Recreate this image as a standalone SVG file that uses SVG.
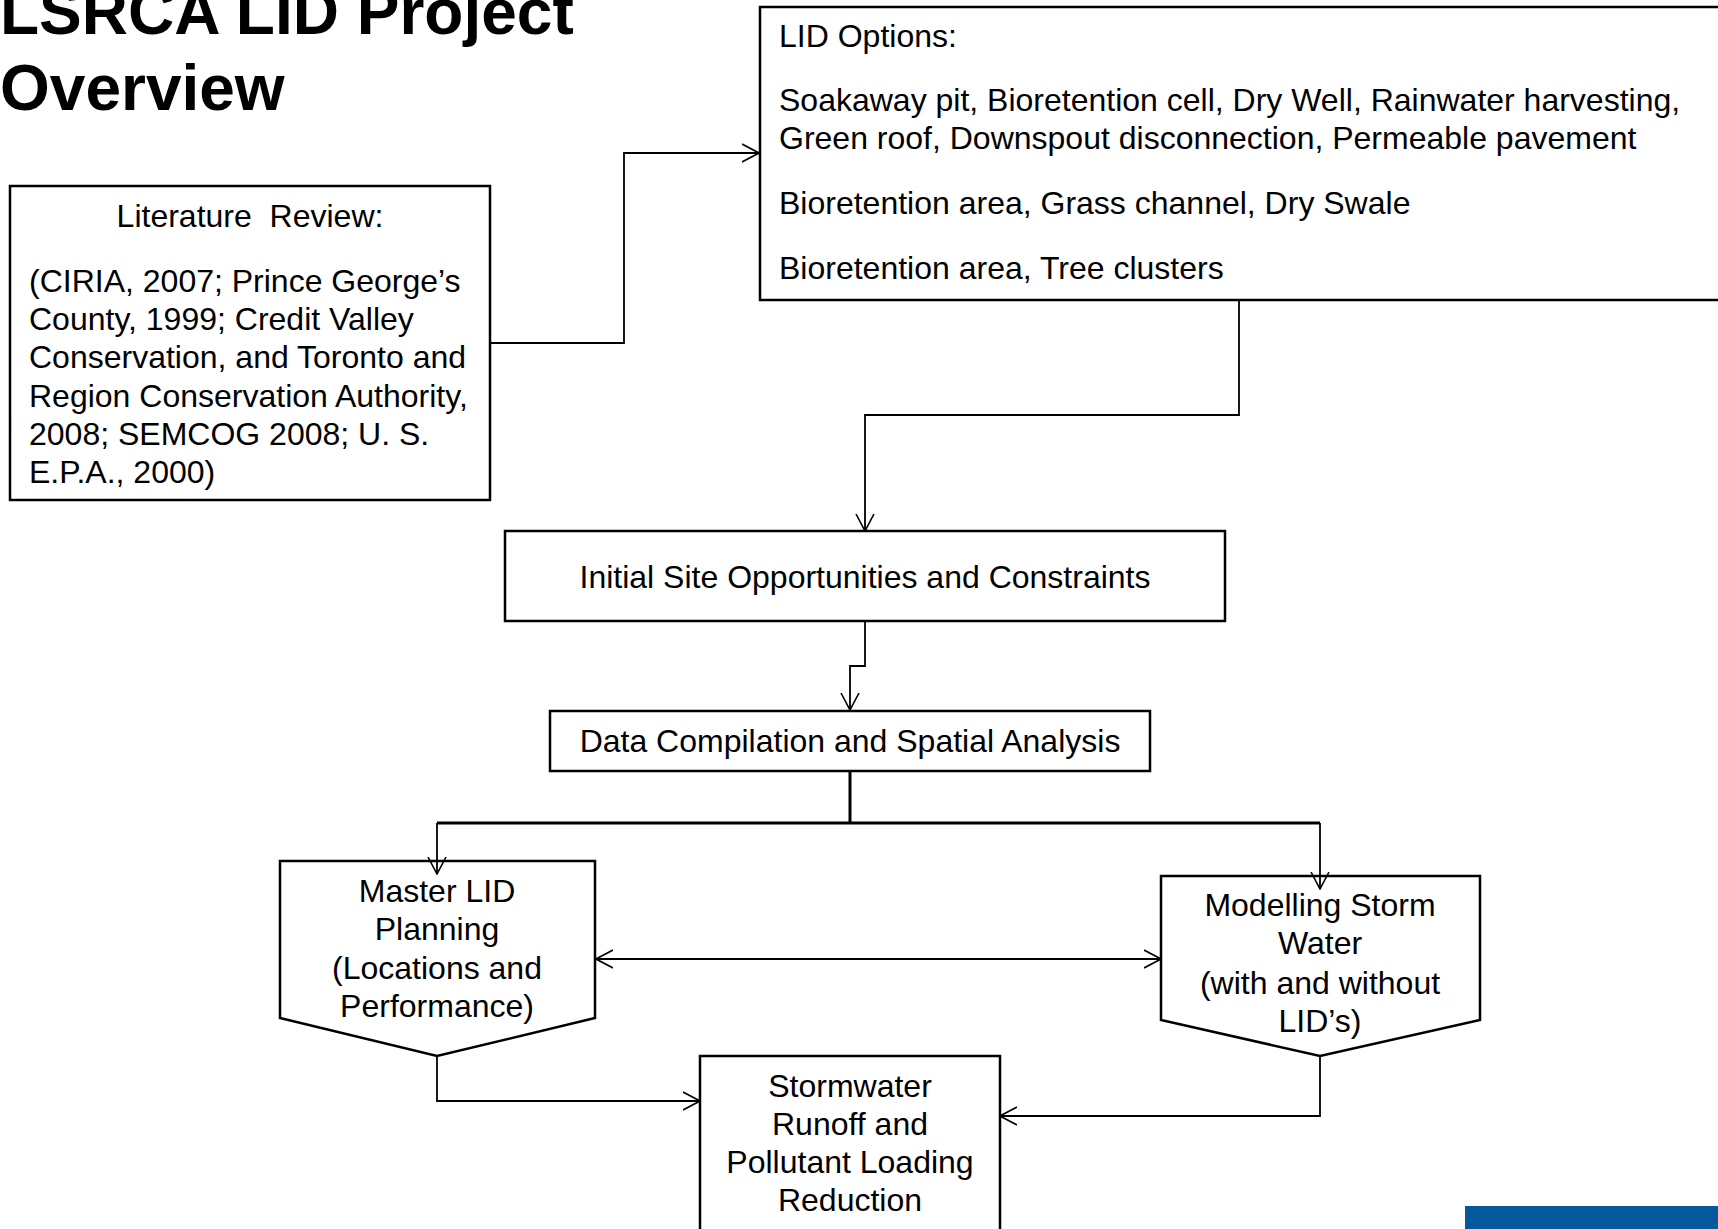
<svg xmlns="http://www.w3.org/2000/svg" width="1718" height="1229" viewBox="0 0 1718 1229">
<style>
text{font-family:"Liberation Sans",Arial,sans-serif;font-size:32px;fill:#000}
.title{font-weight:bold;font-size:64px}
.box{fill:#fff;stroke:#000;stroke-width:2.5}
.c{text-anchor:middle}
.conn{fill:none;stroke:#000;stroke-width:1.8}
.thick{fill:none;stroke:#000;stroke-width:3}
</style>
<defs>
<marker id="arr" markerUnits="userSpaceOnUse" viewBox="0 0 18 20" refX="17" refY="10" markerWidth="18" markerHeight="20" orient="auto-start-reverse">
<path d="M0,1 L17,10 L0,19" fill="none" stroke="#000" stroke-width="1.6"/>
</marker>
</defs>
<rect width="1718" height="1229" fill="#fff"/>
<g id="title">
<text class="title" x="0" y="34">LSRCA LID Project</text>
<text class="title" x="0" y="110">Overview</text>
</g>
<g id="literature">
<rect class="box" x="10" y="186" width="480" height="314"/>
<text class="c" x="250" y="227" xml:space="preserve">Literature  Review:</text>
<text x="29" y="292">(CIRIA, 2007; Prince George’s</text>
<text x="29" y="330">County, 1999; Credit Valley</text>
<text x="29" y="368">Conservation, and Toronto and</text>
<text x="29" y="407">Region Conservation Authority,</text>
<text x="29" y="445">2008; SEMCOG 2008; U. S.</text>
<text x="29" y="483">E.P.A., 2000)</text>
</g>
<g id="lid-options">
<rect class="box" x="760" y="7" width="1000" height="293"/>
<text x="779" y="47">LID Options:</text>
<text x="779" y="111">Soakaway pit, Bioretention cell, Dry Well, Rainwater harvesting,</text>
<text x="779" y="149">Green roof, Downspout disconnection, Permeable pavement</text>
<text x="779" y="214">Bioretention area, Grass channel, Dry Swale</text>
<text x="779" y="279">Bioretention area, Tree clusters</text>
</g>
<g id="initial-site">
<rect class="box" x="505" y="531" width="720" height="90"/>
<text class="c" x="865" y="588">Initial Site Opportunities and Constraints</text>
</g>
<g id="data-compilation">
<rect class="box" x="550" y="711" width="600" height="60"/>
<text class="c" x="850" y="752">Data Compilation and Spatial Analysis</text>
</g>
<g id="master-lid">
<path class="box" d="M280,861 H595 V1018 L437,1056 L280,1018 Z"/>
<text class="c" x="437" y="902">Master LID</text>
<text class="c" x="437" y="940">Planning</text>
<text class="c" x="437" y="979">(Locations and</text>
<text class="c" x="437" y="1017">Performance)</text>
</g>
<g id="modelling">
<path class="box" d="M1161,876 H1480 V1020 L1320,1056 L1161,1020 Z"/>
<text class="c" x="1320" y="916">Modelling Storm</text>
<text class="c" x="1320" y="954">Water</text>
<text class="c" x="1320" y="994">(with and without</text>
<text class="c" x="1320" y="1032">LID’s)</text>
</g>
<g id="stormwater">
<rect class="box" x="700" y="1056" width="300" height="200"/>
<text class="c" x="850" y="1097">Stormwater</text>
<text class="c" x="850" y="1135">Runoff and</text>
<text class="c" x="850" y="1173">Pollutant Loading</text>
<text class="c" x="850" y="1211">Reduction</text>
</g>
<g id="connectors">
<path class="conn" d="M490,343 H624 V153 H759" marker-end="url(#arr)"/>
<path class="conn" d="M1239,300 V415 H865 V531" marker-end="url(#arr)"/>
<path class="conn" d="M865,621 V666 H850 V710" marker-end="url(#arr)"/>
<path class="thick" d="M850,771 V823"/>
<path class="thick" d="M437,823 H1320"/>
<path class="conn" d="M437,823 V874" marker-end="url(#arr)"/>
<path class="conn" d="M1320,823 V889" marker-end="url(#arr)"/>
<path class="conn" d="M596,959 H1161" marker-start="url(#arr)" marker-end="url(#arr)"/>
<path class="conn" d="M437,1056 V1101 H700" marker-end="url(#arr)"/>
<path class="conn" d="M1320,1056 V1116 H1000" marker-end="url(#arr)"/>
</g>
<rect id="footer-bar" x="1465" y="1206" width="253" height="23" fill="#03599c"/>
</svg>
